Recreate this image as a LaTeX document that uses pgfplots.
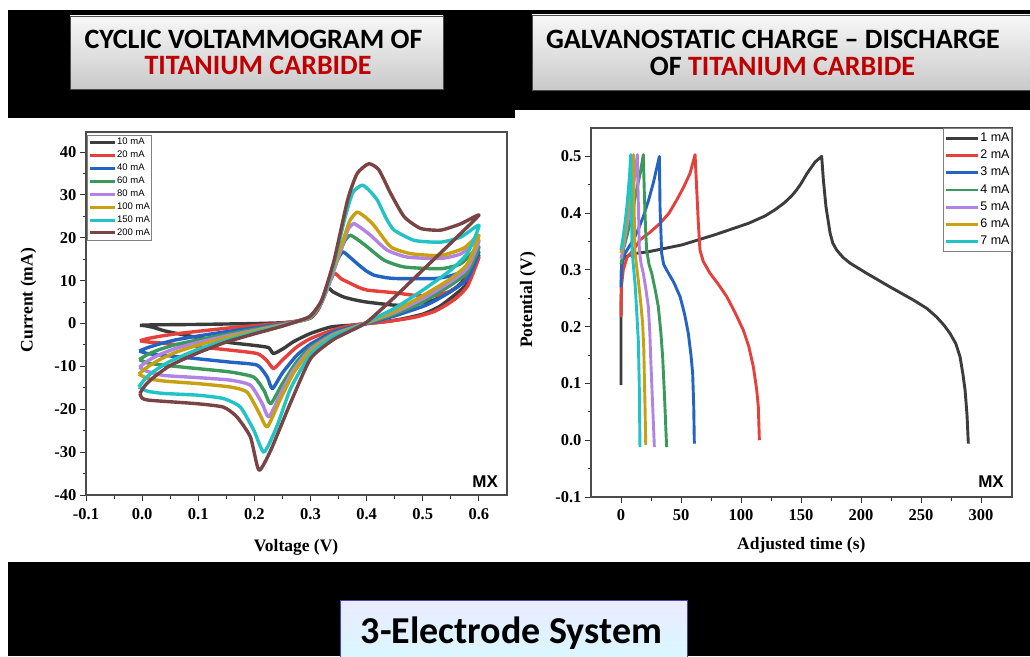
\documentclass[border=0pt]{standalone}
\usepackage{pgfplots}
\pgfplotsset{compat=1.18}
\usepackage{fontspec}
\setmainfont{Liberation Serif}
\newfontfamily\arial{Liberation Sans}
\newfontfamily\calibri{Carlito}
\usetikzlibrary{shadings}
\definecolor{cblack}{HTML}{3C3C3C}
\definecolor{cred}{HTML}{E5403B}
\definecolor{cblue}{HTML}{2363C4}
\definecolor{cgreen}{HTML}{3A9A5C}
\definecolor{cpurple}{HTML}{B283E4}
\definecolor{cgold}{HTML}{C9A012}
\definecolor{ccyan}{HTML}{22C3C6}
\definecolor{cbrown}{HTML}{7A4444}
\definecolor{titlered}{HTML}{C00000}
\pgfplotsset{
  common/.style={
    scale only axis,
    tick align=outside, tick pos=left,
    major tick length=6pt, minor tick length=3.5pt,
    tick style={line width=1pt, black!80},
    axis line style={line width=1.2pt, black!70},
    tick label style={font=\bfseries\fontsize{16.5}{18}\selectfont, /pgf/number format/assume math mode=true},
    label style={font=\bfseries\fontsize{17.5}{20}\selectfont},
    minor x tick num=1, minor y tick num=1,
    legend cell align=left,
  },
  cvl/.style={line width=3.4pt, smooth, tension=0.35, line join=round},
  gcl/.style={line width=2.9pt, line join=round},
}
\begin{document}
\begin{tikzpicture}
\begin{scope}[x=1pt,y=1pt]
\path[use as bounding box] (0,0) rectangle (1030,656);
\fill[white] (0,0) rectangle (1030,656);
\fill[black] (8,538) rectangle (515,646);
\fill[black] (515,546) rectangle (1030,646);
\fill[black] (8,0) rectangle (1030,94);
% title boxes
\shade[top color=gray!6, bottom color=gray!42, draw=gray!60!black, line width=0.8pt] (70,567) rectangle (443,640);
\shade[top color=gray!6, bottom color=gray!42, draw=gray!60!black, line width=0.8pt] (532,566) rectangle (1040,641);
\node[anchor=base, font=\calibri\bfseries\fontsize{28}{26}\selectfont, inner sep=0pt] at (253.5,607) {CYCLIC VOLTAMMOGRAM OF};
\node[anchor=base, font=\calibri\bfseries\fontsize{28}{26}\selectfont, inner sep=0pt, text=titlered] at (258,581) {TITANIUM CARBIDE};
\node[anchor=base, font=\calibri\bfseries\fontsize{28}{26}\selectfont, inner sep=0pt] at (773,607) {GALVANOSTATIC CHARGE – DISCHARGE};
\node[anchor=base, font=\calibri\bfseries\fontsize{28}{26}\selectfont, inner sep=0pt] at (782.5,580) {OF \textcolor{titlered}{TITANIUM CARBIDE}};
% bottom box
\shade[top color=blue!8, bottom color=blue!20!cyan!15, draw=blue!45!gray, line width=1pt] (340,-2) rectangle (687,56);
\node[anchor=base, font=\calibri\bfseries\fontsize{38}{40}\selectfont, inner sep=0pt] at (511.5,13) {3-Electrode System};
\end{scope}

% ---------- CV ----------
\begin{axis}[common,
  at={(86pt,161pt)}, anchor=south west, width=421pt, height=363pt,
  xmin=-0.1, xmax=0.65, ymin=-40, ymax=44.7,
  xtick={-0.1,0,0.1,0.2,0.3,0.4,0.5,0.6},
  ytick={-40,-30,-20,-10,0,10,20,30,40},
  xticklabel style={yshift=-4pt, /pgf/number format/fixed, /pgf/number format/fixed zerofill, /pgf/number format/precision=1},
  xlabel={Voltage (V)}, ylabel={Current (mA)},
  xlabel style={at={(axis description cs:0.499,-0.143)}, anchor=center},
  ylabel style={at={(axis description cs:-0.137,0.537)}, anchor=center},
  legend image code/.code={\draw[#1, line width=3pt] (0pt,0pt) -- (25pt,0pt);},
  legend style={at={(0.003,0.992)}, anchor=north west, draw=gray, line width=0.6pt,
    font=\arial\fontsize{9.5}{11}\selectfont, inner sep=1pt, row sep=0pt,
    nodes={inner sep=0.6pt, text height=8.2pt, text depth=3.5pt}},
]
\addplot[cblack, cvl] coordinates {(-0.004,-0.4) (0.02,-0.3) (0.06,-0.25) (0.1,-0.2) (0.15,-0.1) (0.2,0) (0.25,0.2) (0.28,0.6) (0.3,1.3) (0.312,3) (0.322,6) (0.33,8.5) (0.34,7.4) (0.359,6.2) (0.38,5.5) (0.401,5.0) (0.449,4.3) (0.48,4.4) (0.52,5.5) (0.56,8.5) (0.585,12) (0.6,16)
 (0.58,9.5) (0.56,7) (0.53,4) (0.5,2.2) (0.46,1) (0.43,0.4) (0.4,0) (0.37,-0.4) (0.336,-0.8) (0.3,-2.3) (0.27,-4.2) (0.252,-5.8) (0.234,-7.0) (0.225,-5.6) (0.2,-5.1) (0.16,-4.5) (0.12,-3.7) (0.08,-2.8) (0.04,-1.7) (0.02,-0.9) (0.005,-0.5) (-0.004,-0.4)};
\addlegendentry{10 mA}
\addplot[cred, cvl] coordinates {(-0.004,-4.0) (0.01,-3.5) (0.03,-3.0) (0.06,-2.4) (0.1,-1.8) (0.15,-1.1) (0.2,-0.5) (0.25,0.1) (0.28,0.7) (0.3,1.4) (0.315,3.6) (0.328,7.8) (0.342,11.7) (0.355,10.4) (0.366,9.7) (0.385,8.5) (0.401,7.8) (0.449,7.2) (0.485,6.6) (0.52,6.5) (0.55,7.6) (0.575,10) (0.6,15.5)
 (0.58,8.8) (0.56,6.0) (0.54,4.2) (0.52,2.8) (0.49,1.6) (0.46,0.9) (0.43,0.4) (0.4,0) (0.37,-0.5) (0.34,-1.5) (0.3,-3.5) (0.275,-5.5) (0.25,-8.5) (0.234,-10.5) (0.222,-8.6) (0.205,-7.0) (0.157,-6.2) (0.098,-5.4) (0.06,-4.9) (0.03,-4.5) (0.01,-4.3) (-0.004,-4.0)};
\addlegendentry{20 mA}
\addplot[cblue, cvl] coordinates {(-0.005,-6.4) (0.01,-5.6) (0.03,-4.8) (0.06,-3.8) (0.1,-2.9) (0.15,-1.9) (0.2,-1.0) (0.25,-0.1) (0.28,0.6) (0.3,1.5) (0.318,4.5) (0.332,9) (0.345,14) (0.357,16.7) (0.37,15.5) (0.383,14.0) (0.398,12.4) (0.413,11.3) (0.435,10.7) (0.455,10.5) (0.52,10.5) (0.545,11) (0.562,11.7) (0.585,13.5) (0.6,16.7)
 (0.58,10.5) (0.55,7.5) (0.52,5.2) (0.5,4.0) (0.45,1.8) (0.4,0) (0.37,-0.9) (0.34,-2.0) (0.3,-4.8) (0.275,-7.5) (0.25,-11.5) (0.232,-15.2) (0.223,-12.5) (0.205,-9.7) (0.157,-9.0) (0.098,-8.2) (0.038,-7.4) (0.01,-7.0) (-0.005,-6.4)};
\addlegendentry{40 mA}
\addplot[cgreen, cvl] coordinates {(-0.005,-8.4) (0.01,-7.2) (0.03,-6.1) (0.06,-4.9) (0.1,-3.8) (0.15,-2.5) (0.2,-1.3) (0.25,-0.2) (0.28,0.6) (0.3,1.5) (0.32,5) (0.335,10) (0.35,16) (0.362,19.5) (0.371,20.6) (0.385,19.5) (0.401,17.9) (0.431,14.8) (0.467,13.2) (0.532,12.8) (0.568,14.0) (0.6,17.9)
 (0.58,12) (0.55,9.0) (0.5,5.0) (0.45,2.2) (0.4,0.1) (0.37,-1.1) (0.34,-2.4) (0.3,-5.5) (0.275,-9) (0.25,-14) (0.229,-18.7) (0.217,-15.6) (0.199,-12.5) (0.157,-11.3) (0.098,-10.5) (0.038,-9.7) (0.01,-9.2) (-0.005,-8.4)};
\addlegendentry{60 mA}
\addplot[cpurple, cvl] coordinates {(-0.005,-10.2) (0.01,-8.7) (0.03,-7.3) (0.06,-5.8) (0.1,-4.4) (0.15,-2.9) (0.2,-1.6) (0.25,-0.3) (0.28,0.6) (0.3,1.5) (0.32,5) (0.338,11) (0.355,17.5) (0.367,22) (0.377,23.3) (0.39,22.3) (0.407,20.6) (0.437,17.1) (0.473,15.5) (0.532,15.2) (0.568,16.3) (0.6,19.4)
 (0.58,13) (0.55,9.8) (0.5,5.8) (0.45,2.6) (0.4,0.2) (0.37,-1.2) (0.34,-2.6) (0.3,-6.0) (0.27,-10.8) (0.248,-16) (0.226,-21.8) (0.214,-18.7) (0.193,-14.4) (0.157,-13.2) (0.098,-12.6) (0.038,-12.1) (0.01,-11.2) (-0.005,-10.2)};
\addlegendentry{80 mA}
\addplot[cgold, cvl] coordinates {(-0.006,-11.8) (0.01,-10.1) (0.03,-8.5) (0.06,-6.7) (0.1,-5.0) (0.15,-3.3) (0.2,-1.8) (0.25,-0.4) (0.28,0.6) (0.3,1.6) (0.32,5.2) (0.34,12.5) (0.357,19) (0.37,24) (0.383,26.0) (0.398,24.8) (0.413,22.9) (0.443,17.9) (0.479,16.3) (0.532,15.9) (0.573,17.6) (0.6,20.6)
 (0.58,14) (0.55,10.5) (0.5,6.5) (0.45,2.9) (0.4,0.2) (0.37,-1.3) (0.34,-2.8) (0.3,-6.4) (0.27,-11.5) (0.245,-18) (0.223,-24.1) (0.209,-21.0) (0.187,-16.0) (0.157,-14.8) (0.098,-14.0) (0.038,-13.4) (0.01,-12.8) (-0.006,-11.8)};
\addlegendentry{100 mA}
\addplot[ccyan, cvl] coordinates {(-0.006,-14.8) (0.005,-12.9) (0.02,-11.2) (0.05,-8.8) (0.1,-6.0) (0.15,-3.9) (0.2,-2.1) (0.25,-0.5) (0.28,0.7) (0.3,1.7) (0.32,5.3) (0.34,13) (0.36,24) (0.375,30.5) (0.392,32.3) (0.405,31) (0.419,28.8) (0.435,24.5) (0.449,21.8) (0.485,19.4) (0.532,19.0) (0.568,20.2) (0.6,22.9)
 (0.58,16.5) (0.55,12.5) (0.5,7.8) (0.45,3.6) (0.4,0.3) (0.37,-1.5) (0.34,-3.0) (0.3,-7.2) (0.265,-15) (0.24,-24) (0.217,-30.0) (0.199,-24.9) (0.175,-19.5) (0.145,-17.5) (0.098,-16.7) (0.038,-16.3) (0.01,-15.8) (-0.006,-14.8)};
\addlegendentry{150 mA}
\addplot[cbrown, cvl] coordinates {(-0.004,-16.3) (0.005,-14.5) (0.02,-12.6) (0.05,-9.8) (0.1,-6.8) (0.15,-4.3) (0.2,-2.4) (0.25,-0.6) (0.28,0.7) (0.3,1.8) (0.32,5.5) (0.342,14.8) (0.366,28.8) (0.383,35) (0.404,37.3) (0.422,35.8) (0.443,30.3) (0.467,24.9) (0.496,22.2) (0.532,21.8) (0.568,23.3) (0.6,25.3)
 (0.55,18.8) (0.5,12.5) (0.45,6.2) (0.4,0.3) (0.37,-1.8) (0.34,-3.8) (0.3,-8.2) (0.264,-18.6) (0.229,-29.6) (0.208,-34.2) (0.193,-26.5) (0.169,-21.8) (0.145,-19.5) (0.098,-18.7) (0.014,-17.9) (0,-17.4) (-0.004,-16.3)};
\addlegendentry{200 mA}
\node[font=\arial\bfseries\fontsize{17}{17}\selectfont, anchor=base east, inner sep=0pt] at (rel axis cs:0.979,0.022) {MX};
\end{axis}

% ---------- GCD ----------
\begin{axis}[common,
  at={(591pt,159pt)}, anchor=south west, width=421pt, height=369pt,
  xmin=-25, xmax=325.8, ymin=-0.1, ymax=0.55,
  xtick={0,50,100,150,200,250,300},
  ytick={-0.1,0,0.1,0.2,0.3,0.4,0.5},
  xticklabel style={yshift=-3pt},
  yticklabel style={/pgf/number format/fixed, /pgf/number format/fixed zerofill, /pgf/number format/precision=1},
  xlabel={Adjusted time (s)}, ylabel={Potential (V)},
  xlabel style={at={(axis description cs:0.4995,-0.131)}, anchor=center},
  ylabel style={at={(axis description cs:-0.15,0.534)}, anchor=center},
  legend image code/.code={\draw[#1, line width=2.8pt] (0pt,0pt) -- (32pt,0pt);},
  legend style={at={(1,1)}, anchor=north east, draw=gray, line width=0.8pt,
    font=\arial\fontsize{12.5}{14}\selectfont, inner sep=1.5pt, row sep=0pt,
    nodes={inner sep=0.6pt, text height=11pt, text depth=5pt}},
]
\addplot[cblack, gcl] coordinates {(0,0.097) (0,0.21) (0.3,0.3) (1.5,0.318) (3.3,0.323) (11.7,0.329) (22.8,0.332) (50.6,0.344) (78.3,0.362) (106.1,0.382) (120,0.395) (128.3,0.406) (136,0.418) (142,0.43) (146,0.44) (150,0.452) (155,0.47) (161.7,0.49) (167.2,0.5) (168.6,0.459) (170.8,0.411) (174.2,0.365) (176.5,0.347) (179.7,0.335) (185,0.322) (190.8,0.312) (204.7,0.294) (224.2,0.270) (243.6,0.247) (255,0.232) (263,0.217) (269,0.203) (274.2,0.188) (279,0.17) (282.5,0.147) (285,0.115) (286.7,0.088) (288.3,0.045) (289.4,-0.006)};
\addlegendentry{1 mA}
\addplot[cred, gcl] coordinates {(0,0.217) (0.3,0.27) (1.9,0.3) (5,0.322) (10.3,0.335) (15.8,0.353) (24,0.366) (32.5,0.382) (40,0.4) (46.4,0.423) (52,0.445) (57.5,0.470) (61.7,0.503) (63.1,0.441) (64.5,0.38) (65.8,0.335) (68.5,0.315) (74.2,0.294) (81,0.275) (88.1,0.253) (95,0.225) (101.9,0.194) (106.5,0.165) (110.3,0.129) (113,0.09) (114.4,0.059) (115.3,0.0)};
\addlegendentry{2 mA}
\addplot[cblue, gcl] coordinates {(0,0.27) (0.5,0.31) (3.3,0.329) (10.3,0.353) (14.5,0.372) (18.6,0.394) (23,0.423) (26.9,0.453) (32,0.5) (32.5,0.411) (33.9,0.329) (35.5,0.31) (38,0.3) (44,0.278) (49.2,0.253) (53,0.222) (56.1,0.188) (58.3,0.15) (59.7,0.118) (60.6,0.06) (61.1,-0.006)};
\addlegendentry{3 mA}
\addplot[cgreen, gcl] coordinates {(0,0.31) (2.5,0.34) (5,0.36) (7.5,0.382) (10.3,0.41) (13,0.441) (16,0.47) (18.6,0.503) (19.5,0.43) (20.5,0.37) (21.4,0.335) (23.3,0.31) (25.6,0.294) (28.5,0.265) (31.1,0.235) (33.2,0.19) (34.7,0.147) (36.2,0.08) (38,-0.012)};
\addlegendentry{4 mA}
\addplot[cpurple, gcl] coordinates {(0,0.32) (2,0.34) (5.3,0.382) (8,0.415) (10.5,0.45) (12.3,0.48) (13.6,0.503) (14.3,0.43) (15.3,0.335) (16.8,0.31) (18.6,0.294) (20.8,0.265) (22.8,0.235) (24,0.19) (24.7,0.147) (26,0.08) (27.8,-0.012)};
\addlegendentry{5 mA}
\addplot[cgold, gcl] coordinates {(0,0.33) (2,0.35) (4.4,0.382) (6.5,0.42) (8.5,0.46) (10.3,0.503) (10.8,0.43) (11.5,0.335) (12.8,0.31) (14.4,0.282) (16.3,0.245) (18,0.206) (19,0.16) (19.4,0.118) (20,0.06) (20.6,-0.008)};
\addlegendentry{6 mA}
\addplot[ccyan, gcl] coordinates {(0,0.335) (1.5,0.355) (3.3,0.382) (4.8,0.41) (6.1,0.441) (7.2,0.47) (8.1,0.503) (8.6,0.43) (9.2,0.335) (10.2,0.31) (11.7,0.276) (13,0.23) (14.4,0.176) (15.2,0.1) (15.8,-0.012)};
\addlegendentry{7 mA}
\node[font=\arial\bfseries\fontsize{17}{17}\selectfont, anchor=base east, inner sep=0pt] at (rel axis cs:0.981,0.027) {MX};
\end{axis}
\end{tikzpicture}
\end{document}
